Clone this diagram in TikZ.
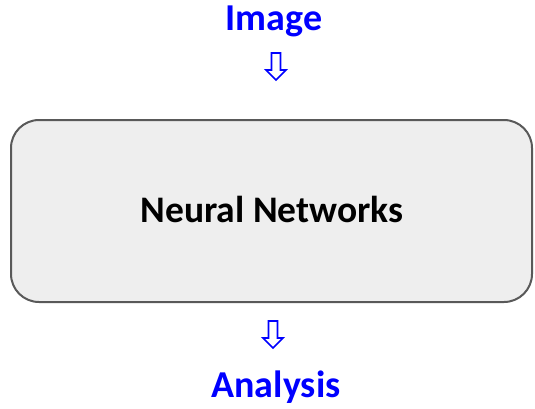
\documentclass[tikz,border=0pt]{standalone}
\usepackage{fontspec}
\setmainfont{Carlito}
\definecolor{boxfill}{HTML}{EEEEEE}
\definecolor{boxline}{HTML}{595959}
\definecolor{labelblue}{HTML}{0000FF}
\begin{document}
\begin{tikzpicture}[x=1pt,y=-1pt,
  label/.style={font=\bfseries\fontsize{38}{38}\selectfont, text=labelblue, inner sep=0pt, anchor=base},
  panel/.style={draw=boxline, line width=2pt, fill=boxfill, rounded corners=28pt},
  downarrow/.pic={\draw[labelblue, line width=1.7pt, fill=white, line join=miter]
     (-4.5,0) -- (4.5,0) -- (4.5,17) -- (10,17) -- (0,27) -- (-10,17) -- (-4.5,17) -- cycle;}]
  \useasboundingbox (0,0) rectangle (535,408);
  % processing block
  \draw[panel] (11,120) rectangle (532,302);
  \node[font=\bfseries\fontsize{37.5}{37.5}\selectfont, inner sep=0pt, anchor=base] (nn) at (272,222) {Neural Networks};
  % input and output labels
  \node[label] (img) at (274,30) {Image};
  \node[label] (ana) at (276,397) {Analysis};
  % flow markers
  \pic (arrin) at (276,53) {downarrow};
  \pic (arrout) at (273,321) {downarrow};
\end{tikzpicture}
\end{document}
